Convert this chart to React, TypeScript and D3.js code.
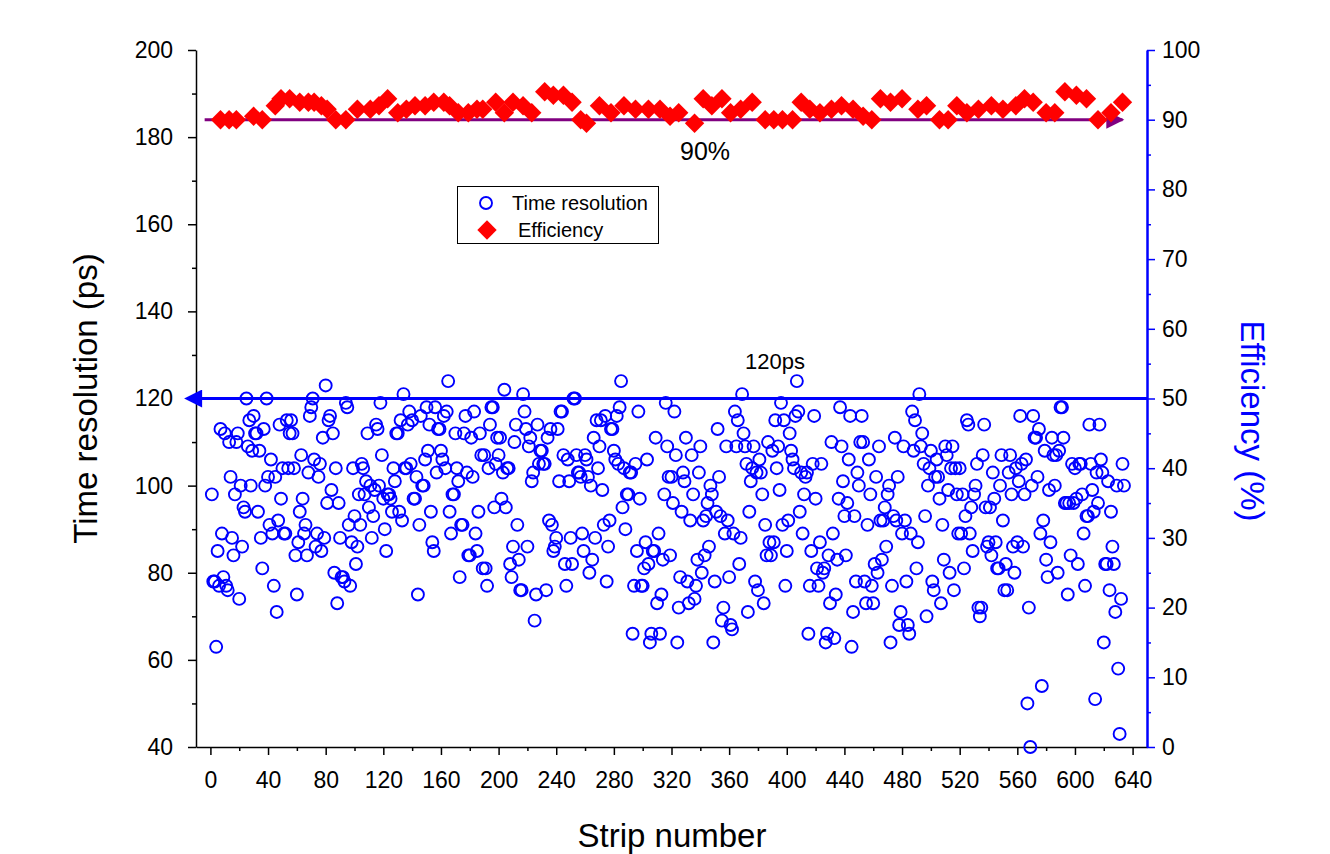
import { useEffect, useRef } from 'react';
import * as d3 from 'd3';

// time resolution (ps) per strip, strip 1..634
const timeRes = [
  98, 78, 78, 63, 85, 77, 113, 89, 79, 112, 77, 76, 110, 102, 88, 84, 98, 110, 112, 74,
  100, 86, 95, 94, 120, 109, 115, 100, 108, 116, 112, 112, 94, 108, 88, 81, 113, 100, 120, 102,
  91, 106, 89, 77, 102, 71, 92, 114, 97, 104, 89, 89, 115, 104, 112,
  115, 112, 104, 84, 75, 87, 94, 107, 97, 89, 91, 84, 103, 116, 118, 120, 106, 86, 89, 102,
  105, 85, 111, 88, 123, 96, 115, 116, 99, 112, 80, 104, 73, 96, 88, 79, 79, 78, 119, 118,
  91, 77, 87, 104, 93, 82, 86, 98, 91, 105, 104, 98, 101, 112, 95, 100, 88, 93, 99, 114,
  113, 100, 119, 107, 97, 90, 85, 98,
  98, 97, 94, 104, 101, 112, 112, 94, 115, 92, 121, 104, 104, 114, 117, 105, 115, 97, 97, 102,
  75, 91, 116, 100, 100, 106, 118, 108, 114, 94, 87, 85, 118, 103, 113, 113, 108, 106, 116, 104,
  117, 124, 94, 89, 98, 98, 112, 104, 101, 79, 91, 91, 112, 116, 103, 84, 84, 111, 102, 117,
  89, 85, 94, 112, 107, 81,
  107, 81, 77, 104, 114, 118, 118, 95, 105, 111, 107, 111, 97, 103, 122, 95, 104, 104, 82, 79,
  86, 110, 114, 91, 83, 76, 76, 121, 117, 113, 86, 109, 111, 101, 103, 69, 75, 114, 105, 108,
  108, 105, 105, 76, 111, 92, 113, 91, 85, 86, 88, 113, 101, 117, 117, 107, 82, 77, 106, 101,
  88, 82, 120, 120, 107, 103,
  103, 102, 89, 85, 107, 106, 102, 80, 100, 83, 111, 88, 115, 104, 109, 115, 99, 91, 116, 78,
  86, 92, 113, 113, 108, 106, 116, 105, 118, 124, 95, 104, 90, 98, 98, 103, 103, 66, 77, 105,
  85, 117, 97, 77, 77, 81, 87, 106, 82, 64, 66, 85, 85, 111, 73, 89, 66, 75, 83, 98,
  119, 109, 102, 84, 102,
  96, 117, 107, 64, 72, 79, 94, 103, 101, 111, 78, 73, 92, 107, 98, 74, 77, 83, 103, 109,
  80, 92, 84, 93, 96, 86, 100, 98, 64, 78, 94, 113, 102, 93, 69, 72, 89, 109, 92, 79,
  68, 67, 89, 117, 109, 115, 82, 88, 121, 112, 109, 105, 71, 94, 101, 104, 109, 78, 103, 76,
  106, 103, 98, 73, 91, 84, 110, 87,
  84, 108, 87, 115, 104, 109, 99, 119, 91, 115, 77, 85, 92, 112, 108, 106, 104, 116, 124, 117,
  94, 103, 89, 98, 102, 103, 66, 77, 85, 105, 116, 97, 81, 77, 87, 105, 80, 81, 64, 66,
  84, 73, 110, 89, 65, 75, 83, 97, 118, 109, 101, 93, 84, 96, 106, 116, 63, 71, 93, 78,
  103, 100, 110, 116,
  110, 78, 73, 91, 106, 98, 77, 73, 82, 102, 80, 109, 92, 83, 92, 95, 86, 98, 100, 64,
  77, 93, 111, 92, 102, 68, 71, 89, 109, 92, 78, 68, 66, 89, 117, 108, 115, 81, 87, 121,
  109, 112, 105, 93, 70, 100, 104, 108, 78, 76, 102, 106, 102, 97, 73, 91, 83, 109, 107, 99,
  80, 104, 109, 76, 104, 98, 89,
  104, 89, 98, 81, 93, 115, 114, 89, 95, 85, 98, 100, 105, 72, 70, 72, 107, 114, 95, 86,
  87, 95, 84, 103, 97, 87, 81, 81, 100, 107, 92, 76, 82, 76, 103, 107, 98, 86, 80, 104,
  87, 101, 116, 105, 86, 98, 106, 50, 72, 40, 100, 116, 111, 111, 102, 113, 89, 54, 92, 108,
  83, 79, 99, 87, 111, 107, 100,
  107, 80, 108, 118, 118, 111, 96, 96, 75, 96, 84, 105, 96, 104, 97, 82, 105, 105, 98, 89,
  77, 93, 93, 114, 105, 99, 94, 51, 103, 96, 114, 106, 103, 64, 82, 82, 101, 76, 94, 86,
  82, 71, 100, 58, 43, 74, 105, 100,
];

// efficiency (%) samples
const effStrips = [
  7, 13, 18, 30, 36, 45, 49, 55, 62, 68, 72, 77, 81, 87, 94, 102, 111, 117, 123, 130,
  136, 142, 149, 155, 162, 166, 172, 179, 185, 189, 198, 204, 210, 217, 223, 232, 238, 245, 251, 257,
  261, 270, 278, 287, 295, 304, 312, 319, 325, 336, 342, 348, 355, 361, 368, 376, 385, 391, 397, 404,
  410, 416, 423, 431, 438, 446, 453, 459, 465, 472, 480, 491, 497, 506, 512, 518, 525, 533, 542, 550,
  559, 565, 571, 580, 586, 593, 601, 608, 616, 625, 633,
];
const effValues = [
  90, 90, 90, 90.5, 90, 92, 93, 93, 92.5, 92.5, 92.5, 92, 91.5, 90, 90, 91.5, 91.5, 92, 93, 91,
  91.5, 92, 92, 92.5, 92.5, 92, 91, 91, 91.5, 91.5, 92.5, 91, 92.5, 92, 91, 94, 93.5, 93.5, 92.5, 90,
  89.5, 92, 91, 92, 91.5, 91.5, 91.5, 90.5, 91, 89.5, 93, 92, 93, 91, 91.5, 92.5, 90, 90, 90, 90,
  92.5, 91.5, 91, 91.5, 92, 91.5, 90.5, 90, 93, 92.5, 93, 91.5, 92, 90, 90, 92, 91, 91.5, 92, 91.5,
  92, 93, 92.5, 91, 91, 94, 93.5, 93, 90, 91, 92.5,
];

const xTicks = [0, 40, 80, 120, 160, 200, 240, 280, 320, 360, 400, 440, 480, 520, 560, 600, 640];
const leftTicks = [40, 60, 80, 100, 120, 140, 160, 180, 200];
const rightTicks = [0, 10, 20, 30, 40, 50, 60, 70, 80, 90, 100];

const FONT = "Arial, 'Liberation Sans', sans-serif";
const BLUE = '#0000ff';

export default function App() {
  const svgRef = useRef<SVGSVGElement>(null);

  useEffect(() => {
    const svg = d3.select(svgRef.current);
    svg.selectAll('*').remove();

    const x = d3.scaleLinear().domain([-10, 650]).range([196, 1147]);
    const yL = d3.scaleLinear().domain([40, 200]).range([747, 50]);
    const yR = d3.scaleLinear().domain([0, 100]).range([747, 50]);

    const defs = svg.append('defs');
    defs.append('marker').attr('id', 'arrBlue')
      .attr('viewBox', '0 0 10 10').attr('refX', 1).attr('refY', 5)
      .attr('markerWidth', 7).attr('markerHeight', 6).attr('markerUnits', 'strokeWidth')
      .attr('orient', 'auto-start-reverse')
      .append('path').attr('d', 'M0,0 L10,5 L0,10 z').attr('fill', BLUE);
    defs.append('marker').attr('id', 'arrPurple')
      .attr('viewBox', '0 0 10 10').attr('refX', 9).attr('refY', 5)
      .attr('markerWidth', 7).attr('markerHeight', 6).attr('markerUnits', 'strokeWidth')
      .attr('orient', 'auto')
      .append('path').attr('d', 'M0,0 L10,5 L0,10 z').attr('fill', '#800080');

    // axes
    const bottom = svg.append('g').attr('transform', `translate(0,${yL(40)})`)
      .call(d3.axisBottom(x).tickValues(xTicks).tickSize(8).tickSizeOuter(0).tickPadding(17));
    bottom.append('g').call(d3.axisBottom(x).tickValues(d3.range(20, 641, 40)).tickSize(4).tickFormat(() => ''))
      .select('.domain').remove();
    bottom.selectAll('text').attr('font-size', 23).attr('font-family', FONT).attr('fill', '#000');
    bottom.selectAll('line,path').attr('stroke', '#000').attr('stroke-width', 1.5);

    const left = svg.append('g').attr('transform', `translate(${x(-10)},0)`)
      .call(d3.axisLeft(yL).tickValues(leftTicks).tickSize(8).tickSizeOuter(0).tickPadding(15));
    left.append('g').call(d3.axisLeft(yL).tickValues(d3.range(50, 200, 20)).tickSize(4).tickFormat(() => ''))
      .select('.domain').remove();
    left.selectAll('text').attr('font-size', 23).attr('font-family', FONT).attr('fill', '#000');
    left.selectAll('line,path').attr('stroke', '#000').attr('stroke-width', 1.5);

    const right = svg.append('g').attr('transform', `translate(${x(650)},0)`)
      .call(d3.axisRight(yR).tickValues(rightTicks).tickSize(8).tickSizeOuter(0).tickPadding(7));
    right.append('g').call(d3.axisRight(yR).tickValues(d3.range(5, 100, 10)).tickSize(4).tickFormat(() => ''))
      .select('.domain').remove();
    right.selectAll('text').attr('font-size', 23).attr('font-family', FONT).attr('fill', '#000');
    right.selectAll('line,path').attr('stroke', BLUE).attr('stroke-width', 1.5);
    right.select('.domain').attr('stroke-width', 2.5);

    // axis titles
    svg.append('text').attr('x', 672).attr('y', 847).attr('text-anchor', 'middle')
      .attr('font-size', 33).attr('font-family', FONT).text('Strip number');
    svg.append('text').attr('transform', `translate(97,${yL(120)}) rotate(-90)`).attr('text-anchor', 'middle')
      .attr('font-size', 33).attr('font-family', FONT).text('Time resolution (ps)');
    svg.append('text').attr('transform', `translate(1241,421) rotate(90)`).attr('text-anchor', 'middle')
      .attr('font-size', 33).attr('font-family', FONT).attr('fill', BLUE).text('Efficiency (%)');

    // reference lines
    svg.append('line').attr('x1', x(650)).attr('x2', x(-7)).attr('y1', yL(120)).attr('y2', yL(120))
      .attr('stroke', BLUE).attr('stroke-width', 3).attr('marker-end', 'url(#arrBlue)');
    svg.append('line').attr('x1', x(-4)).attr('x2', x(633)).attr('y1', yR(90)).attr('y2', yR(90))
      .attr('stroke', '#800080').attr('stroke-width', 3).attr('marker-end', 'url(#arrPurple)');

    // time resolution circles
    svg.append('g').selectAll('circle').data(timeRes).enter().append('circle')
      .attr('cx', (_, i) => x(i + 1)).attr('cy', d => yL(d)).attr('r', 6)
      .attr('fill', 'none').attr('stroke', BLUE).attr('stroke-width', 1.9);

    // efficiency diamonds
    const diamond = d3.symbol().type(d3.symbolDiamond2).size(240);
    svg.append('g').selectAll('path').data(effValues).enter().append('path')
      .attr('d', diamond)
      .attr('transform', (d, i) => `translate(${x(effStrips[i])},${yR(d)})`)
      .attr('fill', '#ff0000');

    svg.append('text').attr('x', 745).attr('y', 369).attr('font-size', 22).attr('font-family', FONT).text('120ps');
    svg.append('text').attr('x', 680).attr('y', 160).attr('font-size', 25).attr('font-family', FONT).text('90%');

    // legend
    const lg = svg.append('g');
    lg.append('rect').attr('x', 457.5).attr('y', 186.5).attr('width', 201).attr('height', 57)
      .attr('fill', 'white').attr('stroke', '#000').attr('stroke-width', 1);
    lg.append('circle').attr('cx', 486).attr('cy', 203).attr('r', 6)
      .attr('fill', 'none').attr('stroke', BLUE).attr('stroke-width', 1.9);
    lg.append('text').attr('x', 512).attr('y', 210).attr('font-size', 20).attr('font-family', FONT).text('Time resolution');
    lg.append('path').attr('d', diamond).attr('transform', 'translate(487,230)').attr('fill', '#ff0000');
    lg.append('text').attr('x', 518).attr('y', 237).attr('font-size', 20).attr('font-family', FONT).text('Efficiency');
  }, []);

  return (
    <svg ref={svgRef} width={1330} height={854}
      style={{ position: 'absolute', left: 0, top: 0, background: 'white' }} />
  );
}
